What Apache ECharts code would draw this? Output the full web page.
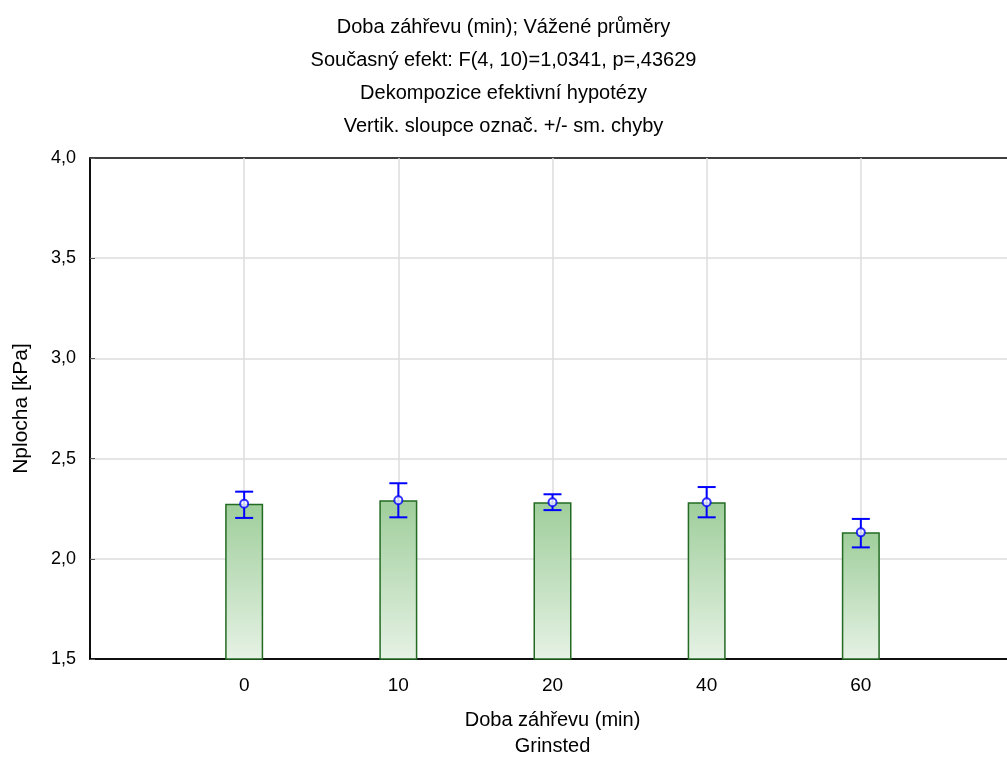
<!DOCTYPE html>
<html>
<head>
<meta charset="utf-8">
<script src="https://cdn.jsdelivr.net/npm/echarts@6/dist/echarts.min.js"></script>
<style>html,body{margin:0;padding:0;background:#fff;overflow:hidden;}#c{width:1007px;height:757px;}</style>
</head>
<body>
<div id="c"></div>
<script>
const categories = ['', '0', '10', '20', '40', '60', ''];
const means = ['-', 2.275, 2.292, 2.282, 2.282, 2.132, '-'];
const errLow = [null, 2.204, 2.207, 2.243, 2.207, 2.057, null];
const errHigh = [null, 2.335, 2.377, 2.322, 2.358, 2.199, null];
const yTicks = { min: 1.5, max: 4.0, interval: 0.5 };
const titleLines = [
  'Doba záhřevu (min); Vážené průměry',
  'Současný efekt: F(4, 10)=1,0341, p=,43629',
  'Dekompozice efektivní hypotézy',
  'Vertik. sloupce označ. +/- sm. chyby'
];
const xName = 'Doba záhřevu (min)\nGrinsted';
const yName = 'Nplocha [kPa]';

const errData = [];
for (let i = 0; i < categories.length; i++) {
  if (errLow[i] != null) errData.push([i, errLow[i], errHigh[i]]);
}
const meanPts = [];
for (let i = 0; i < categories.length; i++) {
  if (means[i] !== '-') meanPts.push([i, means[i]]);
}

const FONT = 'Liberation Sans, Arial, sans-serif';
const chart = echarts.init(document.getElementById('c'), null, { width: 1007, height: 757 });
chart.setOption({
  animation: false,
  backgroundColor: '#fff',
  title: {
    text: titleLines.join('\n'),
    left: 'center',
    top: 6,
    textStyle: { fontFamily: FONT, fontSize: 20, fontWeight: 'normal', color: '#000', lineHeight: 33 }
  },
  grid: { left: 90, top: 158, width: 925, height: 501, containLabel: false, outerBoundsMode: 'none', show: true, borderColor: '#000', borderWidth: 1.5, backgroundColor: 'transparent' },
  xAxis: {
    type: 'category',
    data: categories,
    boundaryGap: false,
    name: xName,
    nameLocation: 'middle',
    nameGap: 48,
    nameTextStyle: { fontFamily: FONT, fontSize: 20, color: '#000', lineHeight: 26 },
    axisLine: { show: true, lineStyle: { color: '#000', width: 1.5 } },
    axisTick: { show: true, inside: true, length: 5, alignWithLabel: true, lineStyle: { color: '#000' } },
    axisLabel: { fontFamily: FONT, fontSize: 19, color: '#000', margin: 17, interval: 0 },
    splitLine: { show: true, showMinLine: false, lineStyle: { color: '#dcdcdc', width: 1.5 } }
  },
  yAxis: {
    type: 'value',
    min: yTicks.min, max: yTicks.max, interval: yTicks.interval,
    name: yName,
    nameLocation: 'middle',
    nameRotate: 90,
    nameGap: 58,
    nameTextStyle: { fontFamily: FONT, fontSize: 21, color: '#000' },
    axisLine: { show: true, lineStyle: { color: '#000', width: 1.5 } },
    axisTick: { show: true, inside: true, length: 5, lineStyle: { color: '#555' } },
    axisLabel: { fontFamily: FONT, fontSize: 18, color: '#000', margin: 14, formatter: v => v.toFixed(1).replace('.', ',') },
    splitLine: { show: true, showMinLine: false, showMaxLine: false, lineStyle: { color: '#dcdcdc', width: 1.5 } }
  },
  series: [
    {
      type: 'bar',
      data: means,
      barWidth: 38,
      itemStyle: {
        color: new echarts.graphic.LinearGradient(0, 0, 0, 1, [
          { offset: 0, color: '#9fce9b' },
          { offset: 1, color: '#e6f2e5' }
        ]),
        borderColor: '#236b23',
        borderWidth: 1.5
      },
      z: 2
    },
    {
      type: 'custom',
      data: errData,
      z: 5,
      renderItem: function (params, api) {
        const x = api.value(0);
        const lo = api.coord([x, api.value(1)]);
        const hi = api.coord([x, api.value(2)]);
        const half = 9;
        const st = { stroke: '#0000ff', lineWidth: 2 };
        return {
          type: 'group',
          children: [
            { type: 'line', shape: { x1: lo[0], y1: lo[1], x2: hi[0], y2: hi[1] }, style: st },
            { type: 'line', shape: { x1: lo[0] - half, y1: lo[1], x2: lo[0] + half, y2: lo[1] }, style: st },
            { type: 'line', shape: { x1: hi[0] - half, y1: hi[1], x2: hi[0] + half, y2: hi[1] }, style: st }
          ]
        };
      }
    },
    {
      type: 'scatter',
      data: meanPts,
      symbol: 'emptyCircle',
      symbolSize: 8,
      itemStyle: { color: '#0000ff', borderColor: '#0000ff', borderWidth: 1.5 },
      z: 6
    }
  ]
});
</script>
</body>
</html>
